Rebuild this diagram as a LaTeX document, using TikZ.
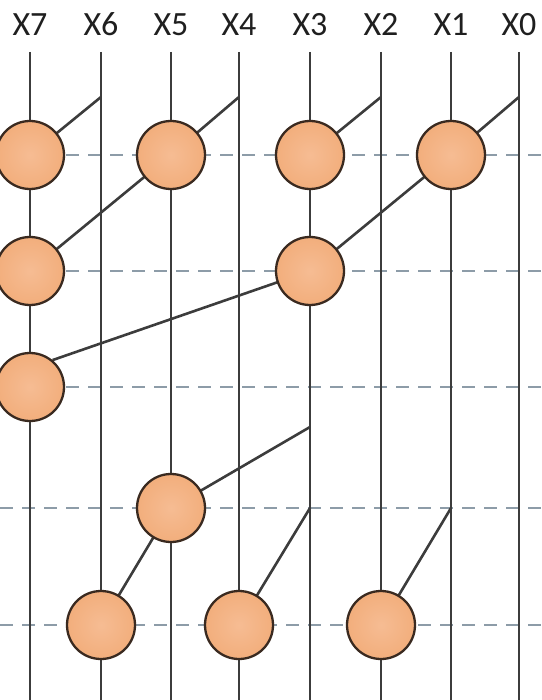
\documentclass[tikz,border=0pt]{standalone}
\usepackage{fontspec}
\setmainfont{Carlito}
\definecolor{wirec}{HTML}{3C3C3C}
\definecolor{edgec}{HTML}{3A2A20}
\definecolor{fillc}{HTML}{F2AE7C}
\definecolor{fillin}{HTML}{F6BC93}
\definecolor{dashc}{HTML}{8D9CA8}
\pgfdeclarelayer{bg}
\pgfdeclarelayer{bgg}
\pgfsetlayers{bgg,bg,main}
\begin{document}
\begin{tikzpicture}[x=1pt,y=-1pt,
  wire/.style={draw=wirec, line width=2.6pt},
  guide/.style={draw=dashc, line width=1.6pt, dash pattern=on 13pt off 9pt},
  pe/.style={circle, minimum size=68pt, inner sep=0pt, draw=edgec, line width=2.3pt, inner color=fillin, outer color=fillc},
  lbl/.style={font=\fontsize{34}{36}\selectfont, text=black!88, inner sep=0pt, anchor=base}]
\useasboundingbox (0,0) rectangle (541,700);
% labels and wire ends
\foreach \n/\x in {7/30,6/101,5/171,4/239,3/310,2/381,1/451,0/519} {
  \node[lbl] (L\n) at (\x,36) {X\n};
  \coordinate (T\n) at (\x,52);
  \coordinate (B\n) at (\x,700);
}
% dashed guide ends
\foreach \i/\y in {1/155,2/271,3/387,4/508,5/625} {
  \coordinate (GL\i) at (0,\y);
  \coordinate (GR\i) at (541,\y);
}
% tap points
\coordinate (p6) at (101,97);
\coordinate (p4) at (239,97);
\coordinate (p2) at (381,97);
\coordinate (p0) at (519,97);
\coordinate (q3) at (310,427);
\coordinate (r3) at (310,508);
\coordinate (r1) at (451,508);
% circles
\node[pe] (a7) at (30,155) {};
\node[pe] (a5) at (171,155) {};
\node[pe] (a3) at (310,155) {};
\node[pe] (a1) at (451,155) {};
\node[pe] (b7) at (30,271) {};
\node[pe] (b3) at (310,271) {};
\node[pe] (c7) at (30,387) {};
\node[pe] (d5) at (171,508) {};
\node[pe] (e6) at (101,625) {};
\node[pe] (e4) at (239,625) {};
\node[pe] (e2) at (381,625) {};
\begin{pgfonlayer}{bgg}
\foreach \i in {1,...,5} \draw[guide] (GL\i) -- (GR\i);
\end{pgfonlayer}
\begin{pgfonlayer}{bg}
\foreach \n in {0,...,7} \draw[wire] (T\n) -- (B\n);
\draw[wire] (p6) -- (a7.center);
\draw[wire] (p4) -- (a5.center);
\draw[wire] (p2) -- (a3.center);
\draw[wire] (p0) -- (a1.center);
\draw[wire] (a5.center) -- (b7.center);
\draw[wire] (a1.center) -- (b3.center);
\draw[wire] (b3.center) -- (c7.50);
\draw[wire] (q3) -- (d5.center);
\draw[wire] (d5.center) -- (e6.center);
\draw[wire] (r3) -- (e4.center);
\draw[wire] (r1) -- (e2.center);
\end{pgfonlayer}
\end{tikzpicture}
\end{document}
